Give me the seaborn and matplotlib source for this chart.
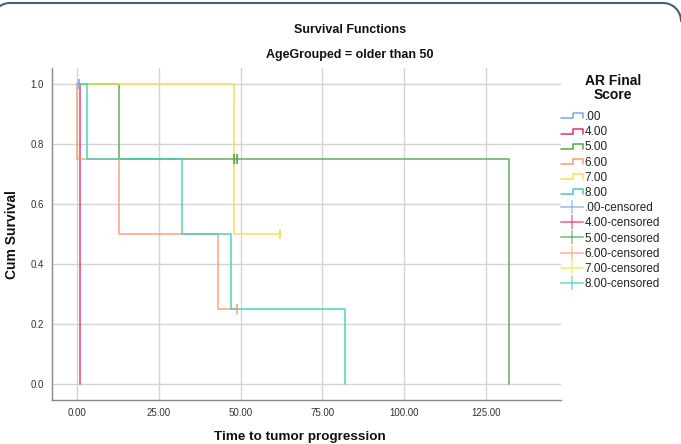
import numpy as np
import pandas as pd
import matplotlib
matplotlib.use('Agg')
import matplotlib.pyplot as plt
import seaborn as sns
from matplotlib.lines import Line2D
from matplotlib.legend_handler import HandlerBase

# Kaplan-Meier step data per AR Final Score group
groups = ['.00', '4.00', '5.00', '6.00', '7.00', '8.00']
step_times = [
    [0, 1],
    [0, 1],
    [0, 13, 132],
    [0, 0, 13, 43, 49],
    [0, 48, 62],
    [0, 3, 32, 47, 82],
]
step_surv = [
    [1.0, 1.0],
    [1.0, 0.0],
    [1.0, 0.75, 0.0],
    [1.0, 0.75, 0.5, 0.25, 0.25],
    [1.0, 0.5, 0.5],
    [1.0, 0.75, 0.5, 0.25, 0.0],
]
# censored observations
cens_group = ['.00', '5.00', '5.00', '6.00', '7.00']
cens_time = [0.6, 48, 49, 49, 62]
cens_surv = [1.0, 0.75, 0.75, 0.25, 0.5]

colors = ['#7aa6ea', '#e3306a', '#4fa84a', '#ff9a72', '#f2e04a', '#3ccfbe']
palette = dict(zip(groups, colors))

rows = []
for g, ts, ss in zip(groups, step_times, step_surv):
    for i, (t, s) in enumerate(zip(ts, ss)):
        rows.append({'group': g, 'time': t, 'surv': s, 'order': i})
steps = pd.DataFrame(rows)
cens = pd.DataFrame({'group': cens_group, 'time': cens_time, 'surv': cens_surv})

sns.set_style('white')
plt.rcParams['font.family'] = ['Liberation Sans', 'DejaVu Sans']

fig = plt.figure(figsize=(6.81, 4.44), dpi=100)
ax = fig.add_axes([52 / 681, 44 / 444, 509 / 681, 332 / 444])

for g in groups:
    sub = steps[steps['group'] == g]
    sns.lineplot(data=sub, x='time', y='surv', color=palette[g], ax=ax,
                 drawstyle='steps-post', estimator=None, sort=False,
                 linewidth=1.2, alpha=0.85, legend=False)

sns.scatterplot(data=cens, x='time', y='surv', hue='group', palette=palette,
                marker='|', s=60, linewidth=1.2, ax=ax, legend=False, zorder=5)

ax.set_xlim(-7.6, 147.9)
ax.set_ylim(-0.053, 1.053)
ax.set_xticks([0, 25, 50, 75, 100, 125])
ax.set_xticklabels(['0.00', '25.00', '50.00', '75.00', '100.00', '125.00'])
ax.set_yticks([0, 0.2, 0.4, 0.6, 0.8, 1.0])
ax.set_yticklabels(['0.0', '0.2', '0.4', '0.6', '0.8', '1.0'])
ax.tick_params(axis='both', labelsize=7, colors='#333333', length=0, pad=6)
ax.grid(True, color='#d4d4d4', linewidth=1)
ax.set_axisbelow(True)
for side in ['top', 'right']:
    ax.spines[side].set_visible(False)
for side in ['left', 'bottom']:
    ax.spines[side].set_color('#888888')
    ax.spines[side].set_linewidth(1)
ax.set_xlabel('')
ax.set_ylabel('')

fig.text(350 / 681, 1 - 30 / 444, 'Survival Functions', ha='center', va='center',
         fontsize=9, fontweight='bold', color='#111111')
fig.text(350 / 681, 1 - 55 / 444, 'AgeGrouped = older than 50', ha='center', va='center',
         fontsize=9, fontweight='bold', color='#111111')
fig.text(300 / 681, 1 - 437 / 444, 'Time to tumor progression', ha='center', va='center',
         fontsize=9.7, fontweight='bold', color='#111111')
fig.text(12 / 681, 1 - 235 / 444, 'Cum Survival', ha='center', va='center',
         rotation=90, fontsize=10, fontweight='bold', color='#111111')
fig.text(613 / 681, 1 - 88 / 444, 'AR Final\nScore', ha='center', va='center',
         fontsize=10, fontweight='bold', color='#111111', linespacing=1.05)


class StepHandler(HandlerBase):
    def create_artists(self, legend, orig_handle, xdescent, ydescent,
                       width, height, fontsize, trans):
        x0 = -xdescent
        x1 = x0 + width * 0.55
        x2 = x0 + width
        ylo = -ydescent + height * 0.2
        yhi = -ydescent + height * 0.8
        line = Line2D([x0, x1, x1, x2, x2], [ylo, ylo, yhi, yhi, ylo],
                      color=orig_handle.get_color(), linewidth=1.1,
                      transform=trans)
        return [line]


handles = []
labels = []
for g in groups:
    handles.append(Line2D([], [], color=palette[g]))
    labels.append(g)
for g in groups:
    handles.append(Line2D([], [], color=palette[g], alpha=0.6, linewidth=1.5,
                          marker='|', markersize=10, markeredgewidth=1.2,
                          markeredgecolor=palette[g]))
    labels.append(g + '-censored')

handler_map = {h: StepHandler() for h in handles[:6]}
leg = fig.legend(handles, labels, handler_map=handler_map, loc='upper left',
                 bbox_to_anchor=(561 / 681, 1 - 111 / 444), frameon=False,
                 fontsize=8.5, handlelength=1.85, handletextpad=0.15,
                 labelspacing=0.27, borderaxespad=0, borderpad=0)
for t in leg.get_texts():
    t.set_color('#222222')

# rounded frame: only its top edge and two top corners show in the image
fw, fh = 681, 444
r = 18
top = 3
ang_l = np.linspace(np.pi, np.pi / 2, 20)
ang_r = np.linspace(np.pi / 2, 0, 20)
bx = np.concatenate([10 + r * np.cos(ang_l), 663 + r * np.cos(ang_r)])
by = np.concatenate([top + r - r * np.sin(ang_l), top + r - r * np.sin(ang_r)])
fig.add_artist(Line2D(bx / fw, 1 - by / fh, transform=fig.transFigure,
                      color='#4b5b7a', linewidth=1.5))

fig.savefig('out.png', dpi=100)
